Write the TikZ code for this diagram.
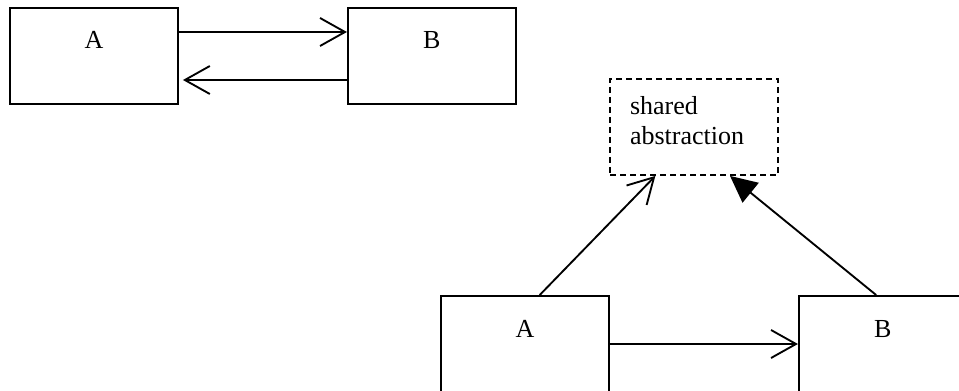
\documentclass[tikz,border=0pt]{standalone}
\usepackage{fontspec}
\setmainfont{Liberation Serif}
\usetikzlibrary{arrows.meta, positioning}

\begin{document}
\begin{tikzpicture}[
  x=0.75pt, y=-0.75pt,
  cls/.style = {
    rectangle, draw, line width=1.4pt,
    minimum width=126pt, inner xsep=0pt, inner ysep=0pt,
    text height=30.75pt, text depth=41.25pt,
    font=\fontsize{19.5}{22.5}\selectfont
  },
  abst/.style = {
    cls, dash pattern=on 4.5pt off 3pt,
    inner xsep=15pt, text width=96pt, align=left,
    text height=27pt, text depth=45pt
  },
  dep/.style  = {-{Straight Barb[length=18.75pt, width=21pt, line width=1.4pt]}, line width=1.4pt},
  inh/.style  = {-{Triangle[length=20pt, width=19pt]}, line width=1.4pt}
]
  \useasboundingbox (0,0) rectangle (959,391);

  % cyclic dependency
  \node[cls]                         (a1) at (94,56) {A};
  \node[cls, right=126pt of a1]      (b1)            {B};

  % broken by a shared abstraction
  \node[abst]                        (shared) at (694,127) {shared\\abstraction};
  \node[cls]                         (a2) at (525,344) {A};
  \node[cls, right=141pt of a2]      (b2)            {B};

  \draw[dep] ([yshift=18pt]a1.east)  -- ([yshift=18pt]b1.west);
  \draw[dep] ([yshift=-18pt]b1.west) -- ([xshift=3pt,yshift=-18pt]a1.east);
  \draw[dep] (a2.east)               -- (b2.west);
  \draw[dep] ([xshift=11pt]a2.north) -- ([xshift=-29pt]shared.south);
  \draw[inh] ([xshift=-5pt]b2.north) -- ([xshift=27pt]shared.south);
\end{tikzpicture}
\end{document}
